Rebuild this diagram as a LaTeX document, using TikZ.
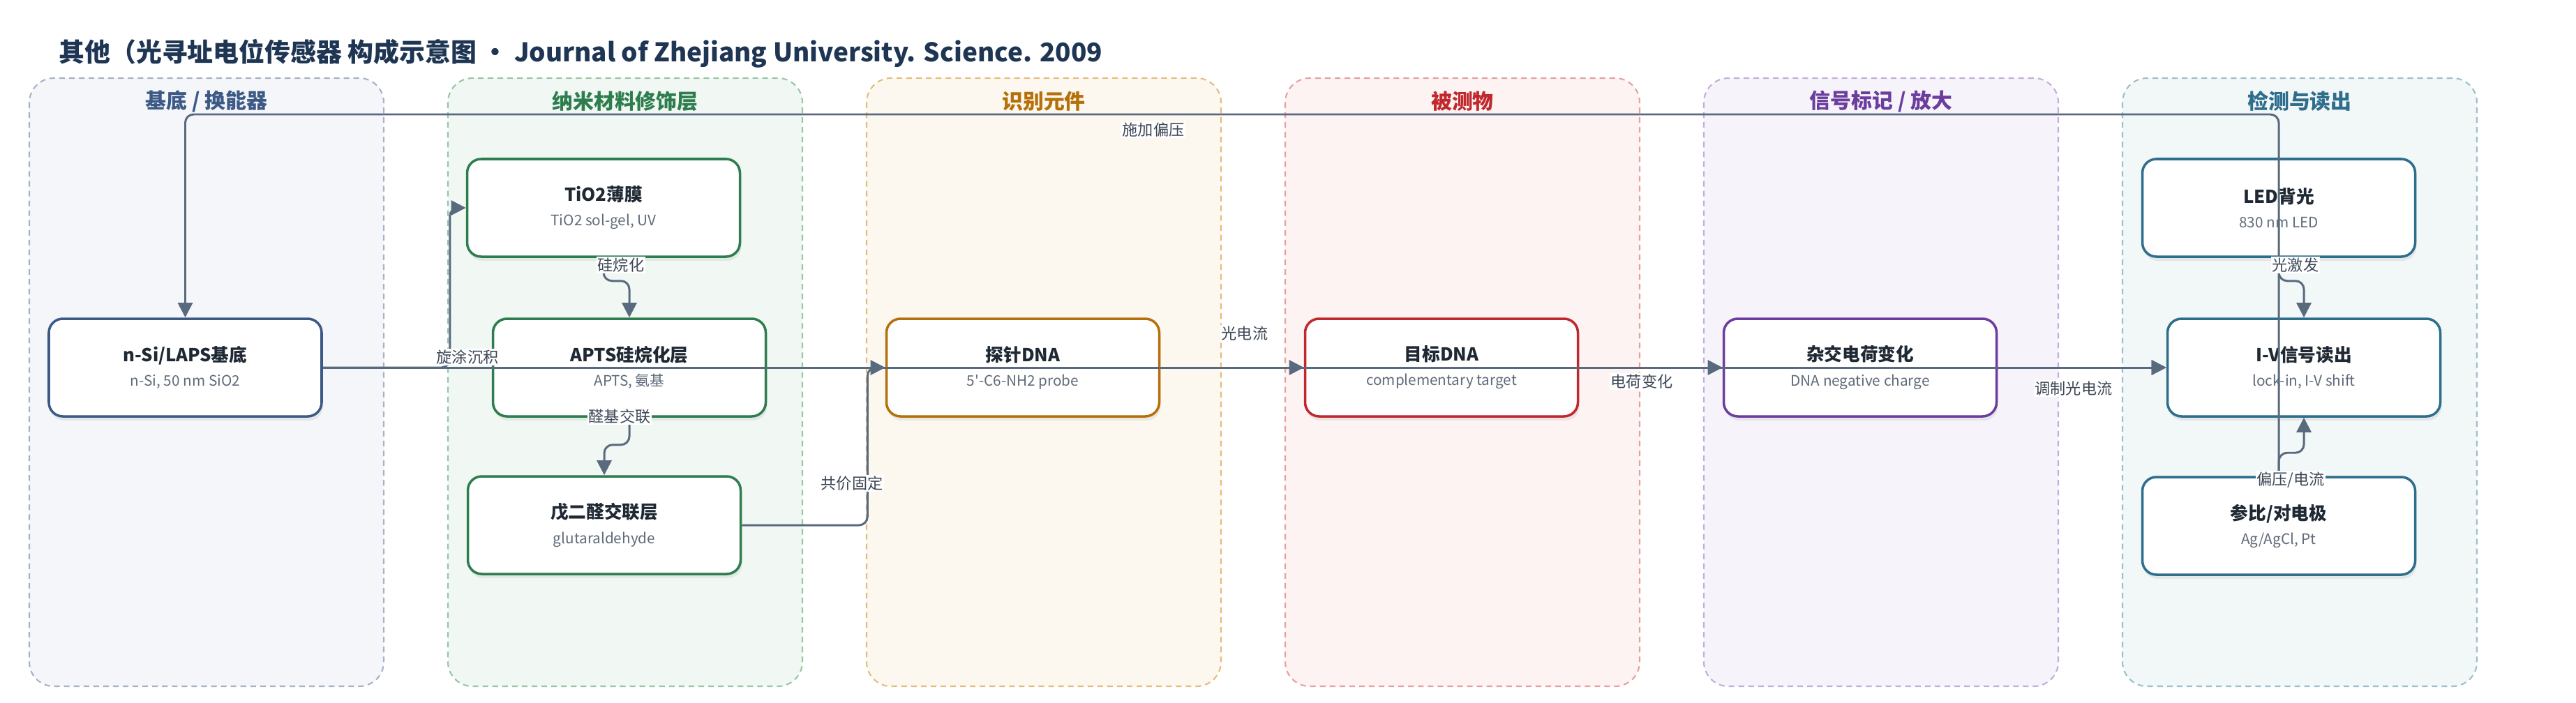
\documentclass[tikz,border=0pt]{standalone}
\usepackage{fontspec}
\setmainfont{Noto Sans CJK SC}
\usetikzlibrary{arrows.meta,shadows}

\definecolor{titlenavy}{HTML}{1E3553}
\definecolor{linkgray}{HTML}{5A6A7E}
\definecolor{textdark}{HTML}{1F2933}
\definecolor{subgray}{HTML}{5F6B7A}
\definecolor{tagtext}{HTML}{3C4756}
\definecolor{subC}{HTML}{3D5A87}
\definecolor{subF}{HTML}{F4F6FA}
\definecolor{subL}{HTML}{A6B2C6}
\definecolor{nanoC}{HTML}{2E7D4E}
\definecolor{nanoF}{HTML}{F1F8F3}
\definecolor{nanoL}{HTML}{98C6A6}
\definecolor{recoC}{HTML}{B5700B}
\definecolor{recoF}{HTML}{FDF8EF}
\definecolor{recoL}{HTML}{E3BD7E}
\definecolor{anaC}{HTML}{C0282D}
\definecolor{anaF}{HTML}{FDF3F2}
\definecolor{anaL}{HTML}{E6A0A0}
\definecolor{sigC}{HTML}{6B3E9E}
\definecolor{sigF}{HTML}{F6F3FA}
\definecolor{sigL}{HTML}{C3ADDC}
\definecolor{detC}{HTML}{2E6E8C}
\definecolor{detF}{HTML}{F2F7F8}
\definecolor{detL}{HTML}{9DBFCC}

\newcommand{\boxtext}[2]{{\fontsize{7.3}{10}\selectfont\bfseries #1}\\{\fontsize{5.9}{10}\selectfont\color{subgray}#2}}

\begin{document}
\begin{tikzpicture}[
    lane/.style={rounded corners=0.35cm, dash pattern=on 2.3pt off 1.7pt, line width=0.6pt},
    head/.style={font=\fontsize{8.5}{10}\selectfont\bfseries},
    box/.style={draw, line width=1pt, rounded corners=0.2cm, fill=white,
      minimum width=3.91cm, minimum height=1.40cm, align=center, text=textdark,
      font=\fontsize{5.9}{10}\selectfont,
      drop shadow={shadow xshift=0.02cm, shadow yshift=-0.06cm, opacity=0.13}},
    link/.style={draw=linkgray, line width=0.85pt, rounded corners=0.12cm,
      -{Triangle[length=6pt,width=6pt]}},
    tag/.style={fill=white, inner sep=0.5pt, text=tagtext, font=\fontsize{6.3}{7.5}\selectfont}
  ]
    \useasboundingbox (0,0) rectangle (36.92,-10.07);
    \node[anchor=west, text=titlenavy, font=\fontsize{10.5}{12}\selectfont\bfseries] (title)
      at (0.72,-0.77) {其他（光寻址电位传感器 构成示意图 • Journal of Zhejiang University. Science. 2009};

    \draw[lane, draw=subL, fill=subF] (0.42,-1.12) rectangle (5.50,-9.84);
    \draw[lane, draw=nanoL, fill=nanoF] (6.42,-1.12) rectangle (11.50,-9.84);
    \draw[lane, draw=recoL, fill=recoF] (12.42,-1.12) rectangle (17.50,-9.84);
    \draw[lane, draw=anaL, fill=anaF] (18.42,-1.12) rectangle (23.50,-9.84);
    \draw[lane, draw=sigL, fill=sigF] (24.42,-1.12) rectangle (29.50,-9.84);
    \draw[lane, draw=detL, fill=detF] (30.42,-1.12) rectangle (35.50,-9.84);
    \node[head, text=subC] (hsub) at (2.96,-1.45) {基底 / 换能器};
    \node[head, text=nanoC] (hnano) at (8.96,-1.45) {纳米材料修饰层};
    \node[head, text=recoC] (hreco) at (14.96,-1.45) {识别元件};
    \node[head, text=anaC] (hana) at (20.96,-1.45) {被测物};
    \node[head, text=sigC] (hsig) at (26.96,-1.45) {信号标记 / 放大};
    \node[head, text=detC] (hdet) at (32.96,-1.45) {检测与读出};

    \node[box, draw=subC] (nsi) at (2.655,-5.27) {\boxtext{n-Si/LAPS基底}{n-Si, 50 nm SiO2}};
    \node[box, draw=nanoC] (tio2) at (8.65,-2.98) {\boxtext{TiO2薄膜}{TiO2 sol-gel, UV}};
    \node[box, draw=nanoC] (apts) at (9.02,-5.27) {\boxtext{APTS硅烷化层}{APTS, 氨基}};
    \node[box, draw=nanoC] (glut) at (8.66,-7.53) {\boxtext{戊二醛交联层}{glutaraldehyde}};
    \node[box, draw=recoC] (probe) at (14.66,-5.27) {\boxtext{探针DNA}{5\textquotesingle-C6-NH2 probe}};
    \node[box, draw=anaC] (target) at (20.66,-5.27) {\boxtext{目标DNA}{complementary target}};
    \node[box, draw=sigC] (hybrid) at (26.66,-5.27) {\boxtext{杂交电荷变化}{DNA negative charge}};
    \node[box, draw=detC] (led) at (32.66,-2.98) {\boxtext{LED背光}{830 nm LED}};
    \node[box, draw=detC] (iv) at (33.02,-5.27) {\boxtext{I-V信号读出}{lock-in, I-V shift}};
    \node[box, draw=detC] (refel) at (32.66,-7.54) {\boxtext{参比/对电极}{Ag/AgCl, Pt}};

    \draw[link] (nsi.east) -- ++(1.82,0) |- (tio2.west);
    \draw[link] (tio2.south) -- ++(0,-0.33) -| (apts.north);
    \draw[link] (apts.south) -- ++(0,-0.39) -| (glut.north);
    \draw[link] (glut.east) -- ++(1.8,0) |- (probe.west);
    \draw[link] (nsi.east) -- (iv.west);
    \draw[link] (probe.east) -- (target.west);
    \draw[link] (target.east) -- (hybrid.west);
    \draw[link] (hybrid.east) -- (iv.west);
    \draw[link] (led.south) -- ++(0,-0.33) -| (iv.north);
    \draw[link] (refel.north) -- ++(0,0.33) -| (iv.south);
    \draw[link] (refel.north) -- (32.66,-1.64) -| (nsi.north);

    \node[tag] (tspin) at (6.70,-5.12) {旋涂沉积};
    \node[tag] (tsilane) at (8.90,-3.80) {硅烷化};
    \node[tag] (tcross) at (8.88,-5.97) {醛基交联};
    \node[tag] (tfix) at (12.21,-6.93) {共价固定};
    \node[tag] (tphoto) at (17.84,-4.78) {光电流};
    \node[tag] (tcharge) at (23.53,-5.47) {电荷变化};
    \node[tag] (tmod) at (29.72,-5.57) {调制光电流};
    \node[tag] (texcite) at (32.90,-3.80) {光激发};
    \node[tag] (tbias) at (32.83,-6.88) {偏压/电流};
    \node[tag] (tapply) at (16.53,-1.86) {施加偏压};
\end{tikzpicture}
\end{document}
